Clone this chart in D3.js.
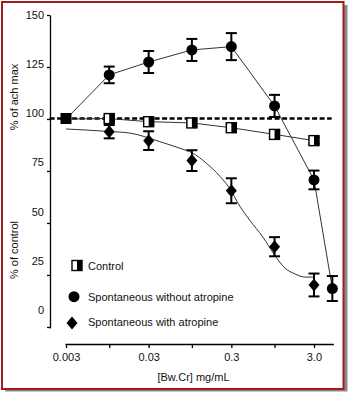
<!DOCTYPE html>
<html>
<head>
<meta charset="utf-8">
<script src="https://cdn.jsdelivr.net/npm/d3@7"></script>
<style>
  html, body { margin: 0; padding: 0; background: #fff; }
  svg { display: block; font-family: "Liberation Sans", Arial, sans-serif; }
</style>
</head>
<body>
<svg id="chart" width="350" height="393"></svg>
<script>
// ---- data ----
const doses = [0.003, 0.01, 0.03, 0.1, 0.3, 1, 3];
const controlValues = [100, 100.2, 98.7, 98.1, 95.8, 92.6, 89.6];
const controlErrors = [0, 1.5, 1.5, 1.5, 1.5, 1.5, 1.5];

const withoutDoses = [0.003, 0.01, 0.03, 0.1, 0.3, 1, 3, 5];
const withoutValues = [100, 121.2, 127.4, 133.2, 134.8, 106.3, 70.7, 18.5];
const withoutErrors = [0, 4, 5.3, 5.3, 6.5, 5.3, 4.5, 6];

const withDoses = [0.003, 0.01, 0.03, 0.1, 0.3, 1, 3];
const withValues = [100, 93.9, 89.6, 80.0, 65.5, 38.6, 20.2];
const withErrors = [0, 3.2, 4.5, 5, 6, 4.6, 5.5];

// fitted curve for the atropine series
const fitDoses = [0.003, 0.01, 0.018, 0.041, 0.072, 0.1, 0.15, 0.22, 0.3, 0.36, 0.5, 0.72, 1.0, 1.33, 1.77, 2.34, 2.93];
const fitValues = [95.2, 94.0, 93.2, 89.1, 85.9, 83.8, 78.7, 72.3, 65.4, 59.6, 51.4, 43.3, 34.6, 28.4, 25.5, 24.0, 24.0];

const refPoint = [{dose: 0.003, value: 100}];
const baselineValue = 100;
const baselineExtent = [0.0019, 4.9];

const xTickValues = [0.003, 0.01, 0.03, 0.1, 0.3, 1, 3];
const xTickLabels = ["0.003", "", "0.03", "", "0.3", "", "3.0"];
const xAxisExtent = [0.00292, 5.15];
const yTickValues = [0, 25, 50, 75, 100, 125, 150];
const yTickLabels = ["0", "25", "50", "75", "100", "125", "150"];

const legendLabels = ["Control", "Spontaneous without atropine", "Spontaneous with atropine"];
const xTitle = "[Bw.Cr] mg/mL";
const yTitleTop = "% of ach max";
const yTitleBottom = "% of control";

// ---- drawing ----
const svg = d3.select("#chart");
const ink = "#000";
const lineInk = "#333";

// frame with shadow
svg.append("rect").attr("x", 5).attr("y", 5).attr("width", 342.5).attr("height", 386.5).attr("fill", "#8c8c8c");
svg.append("rect").attr("x", 2).attr("y", 2).attr("width", 341.5).attr("height", 387)
  .attr("fill", "#fff").attr("stroke", "#9e1c1c").attr("stroke-width", 2);

const x = d3.scaleLog().domain([0.003, 3]).range([66, 314]);
const y = d3.scaleLinear().domain([0, 150]).range([327, 15]);
const yLabel = d3.scaleLinear().domain([0, 150]).range([310, 15]);

// x axis
const xAxisScale = x.copy().domain(xAxisExtent).range(xAxisExtent.map(x));
const xAxis = d3.axisBottom(xAxisScale)
  .tickValues(xTickValues)
  .tickFormat((d, i) => xTickLabels[i])
  .tickSizeInner(4).tickSizeOuter(0).tickPadding(5);
const gx = svg.append("g").attr("transform", "translate(0,344)").call(xAxis);
gx.select(".domain").attr("stroke", ink).attr("stroke-width", 1.3);
gx.selectAll(".tick line").attr("stroke", ink).attr("stroke-width", 1.3);
gx.selectAll(".tick text").attr("font-size", 11).attr("font-family", "'Liberation Sans', Arial, sans-serif").attr("fill", "#111");

// y axis
const yAxis = d3.axisLeft(y.copy().domain([-0.5, 150]).range([328, 15]))
  .tickValues(yTickValues).tickFormat("").tickSizeInner(3).tickSizeOuter(0);
const gy = svg.append("g").attr("transform", "translate(50,0)").call(yAxis);
gy.select(".domain").attr("stroke", ink).attr("stroke-width", 1.3);
gy.selectAll(".tick line").attr("stroke", ink).attr("stroke-width", 1.3);

svg.append("g").selectAll("text").data(yTickValues).join("text")
  .attr("x", 44).attr("y", d => yLabel(d)).attr("dy", "0.35em")
  .attr("text-anchor", "end").attr("font-size", 11).attr("fill", "#111")
  .text((d, i) => yTickLabels[i]);

// titles
svg.append("text").attr("transform", "translate(18,97) rotate(-90)")
  .attr("text-anchor", "middle").attr("font-size", 11).attr("fill", "#111").text(yTitleTop);
svg.append("text").attr("transform", "translate(18,250) rotate(-90)")
  .attr("text-anchor", "middle").attr("font-size", 11).attr("fill", "#111").text(yTitleBottom);
svg.append("text").attr("x", 193.5).attr("y", 381)
  .attr("text-anchor", "middle").attr("font-size", 11).attr("fill", "#111").text(xTitle);

// baseline dashed line
svg.append("line")
  .attr("x1", x(baselineExtent[0])).attr("x2", x(baselineExtent[1]))
  .attr("y1", y(baselineValue) - 0.5).attr("y2", y(baselineValue) - 0.5)
  .attr("stroke", ink).attr("stroke-width", 2.4).attr("stroke-dasharray", "5,2.5");

const zip = (ds, vs, es) => ds.map((d, i) => ({dose: d, value: vs[i], err: es ? es[i] : 0}));
const control = zip(doses, controlValues, controlErrors);
const without = zip(withoutDoses, withoutValues, withoutErrors);
const withA = zip(withDoses, withValues, withErrors);
const fit = zip(fitDoses, fitValues);

const line = d3.line().x(d => x(d.dose)).y(d => y(d.value));
svg.append("path").datum(control).attr("d", line).attr("fill", "none").attr("stroke", lineInk).attr("stroke-width", 1);
svg.append("path").datum(without).attr("d", line).attr("fill", "none").attr("stroke", lineInk).attr("stroke-width", 1);
svg.append("path").datum(fit).attr("d", line.curve(d3.curveMonotoneX)).attr("fill", "none").attr("stroke", lineInk).attr("stroke-width", 1);

// error bars
function errorBars(data) {
  const g = svg.append("g").attr("stroke", ink).attr("stroke-width", 2);
  const d2 = data.filter(d => d.err > 0);
  g.selectAll(".stem").data(d2).join("line")
    .attr("x1", d => x(d.dose)).attr("x2", d => x(d.dose))
    .attr("y1", d => y(d.value + d.err)).attr("y2", d => y(d.value - d.err));
  g.selectAll(".capT").data(d2).join("line")
    .attr("x1", d => x(d.dose) - 5.5).attr("x2", d => x(d.dose) + 5.5)
    .attr("y1", d => y(d.value + d.err)).attr("y2", d => y(d.value + d.err));
  g.selectAll(".capB").data(d2).join("line")
    .attr("x1", d => x(d.dose) - 5.5).attr("x2", d => x(d.dose) + 5.5)
    .attr("y1", d => y(d.value - d.err)).attr("y2", d => y(d.value - d.err));
}
errorBars(control);
errorBars(without);
errorBars(withA);

// markers
function halfSquare(g, cx, cy) {
  g.append("rect").attr("x", cx - 5).attr("y", cy - 5).attr("width", 10).attr("height", 10)
    .attr("fill", "#fff").attr("stroke", ink).attr("stroke-width", 1.4);
  g.append("rect").attr("x", cx).attr("y", cy - 5).attr("width", 5).attr("height", 10).attr("fill", ink);
}
const circleMark = (g, cx, cy) => g.append("circle").attr("cx", cx).attr("cy", cy).attr("r", 5.5).attr("fill", ink);
const diamondMark = (g, cx, cy) => g.append("path")
  .attr("d", `M${cx},${cy - 6.5}L${cx + 5.5},${cy}L${cx},${cy + 6.5}L${cx - 5.5},${cy}Z`).attr("fill", ink);

const gm = svg.append("g");
control.slice(1).forEach(d => halfSquare(gm, x(d.dose), y(d.value)));
without.slice(1).forEach(d => circleMark(gm, x(d.dose), y(d.value)));
withA.slice(1).forEach(d => diamondMark(gm, x(d.dose), y(d.value)));
refPoint.forEach(d => gm.append("rect").attr("x", x(d.dose) - 5.5).attr("y", y(d.value) - 6)
  .attr("width", 11).attr("height", 11).attr("fill", ink));

// legend
const lg = svg.append("g");
halfSquare(lg, 77, 265.5);
circleMark(lg, 74, 296.7);
diamondMark(lg, 72, 323);
const legendY = [265.7, 296.7, 321.7];
lg.selectAll("text").data(legendLabels).join("text")
  .attr("x", 88).attr("y", (d, i) => legendY[i]).attr("dy", "0.35em")
  .attr("font-size", 11).attr("fill", "#111").text(d => d);
</script>
</body>
</html>
